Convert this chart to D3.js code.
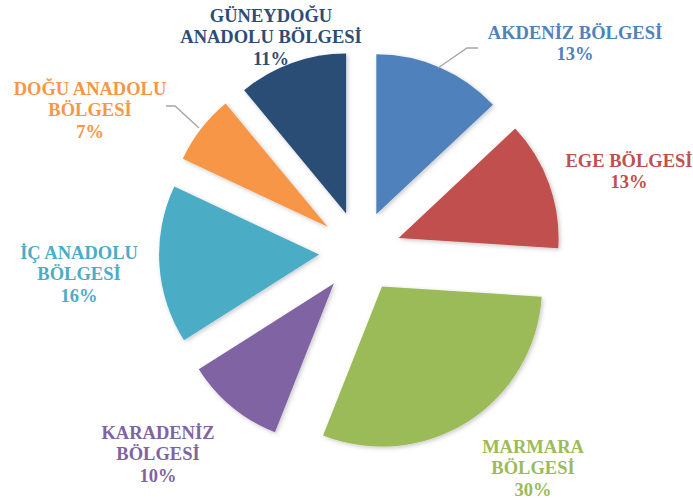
<!DOCTYPE html>
<html>
<head>
<meta charset="utf-8">
<script src="https://cdn.jsdelivr.net/npm/d3@7"></script>
<style>
  html, body { margin: 0; padding: 0; background: #fff; }
  svg { display: block; }
</style>
</head>
<body>
<svg id="chart" width="693" height="503"></svg>
<script>
// ---- data ----
const categories = ["AKDENİZ BÖLGESİ", "EGE BÖLGESİ", "MARMARA BÖLGESİ", "KARADENİZ BÖLGESİ", "İÇ ANADOLU BÖLGESİ", "DOĞU ANADOLU BÖLGESİ", "GÜNEYDOĞU ANADOLU BÖLGESİ"];
const values = [13, 13, 30, 10, 16, 7, 11];
const labelLines = [
  ["AKDENİZ BÖLGESİ"],
  ["EGE BÖLGESİ"],
  ["MARMARA", "BÖLGESİ"],
  ["KARADENİZ", "BÖLGESİ"],
  ["İÇ ANADOLU", "BÖLGESİ"],
  ["DOĞU ANADOLU", "BÖLGESİ"],
  ["GÜNEYDOĞU", "ANADOLU BÖLGESİ"]
];
const colors = ["#4F81BD", "#C0504D", "#9BBB59", "#8064A2", "#4BACC6", "#F79646", "#2C4D75"];

// ---- layout ----
const cx = 360, cy = 252, radius = 160, explode = 41;
const labelCenters = [[575, 32], [629, 160], [533, 446], [158, 432], [79, 252], [90, 88], [271, 15]];
const lineH = 21.5;
const leaders = {
  0: [[478, 48], [467, 48], [438, 68]],
  5: [[166, 106], [175, 106], [199, 128]]
};

const svg = d3.select("#chart");
const defs = svg.append("defs");
const f = defs.append("filter").attr("id", "sh").attr("x", "-20%").attr("y", "-20%").attr("width", "140%").attr("height", "140%");
f.append("feDropShadow").attr("dx", 1.5).attr("dy", 1.5).attr("stdDeviation", 2).attr("flood-color", "#000").attr("flood-opacity", 0.22);

const pie = d3.pie().sort(null).value(d => d)(values);
const arc = d3.arc().innerRadius(0).outerRadius(radius);

const g = svg.append("g").attr("transform", `translate(${cx},${cy})`);
g.selectAll("path").data(pie).join("path")
  .attr("d", arc)
  .attr("fill", (d, i) => colors[i])
  .attr("filter", "url(#sh)")
  .attr("transform", d => {
    const a = (d.startAngle + d.endAngle) / 2;
    return `translate(${explode * Math.sin(a)},${-explode * Math.cos(a)})`;
  });

// leader lines
const line = d3.line();
Object.entries(leaders).forEach(([i, pts]) => {
  svg.append("path").attr("d", line(pts)).attr("fill", "none")
    .attr("stroke", "#A6A6A6").attr("stroke-width", 1.3);
});

// labels
pie.forEach((d, i) => {
  const lines = labelLines[i].concat([d3.format(".0f")(d.data) + "%"]);
  const [lx, ly] = labelCenters[i];
  const t = svg.append("text")
    .attr("text-anchor", "middle")
    .attr("font-family", "'Liberation Serif', 'Times New Roman', serif")
    .attr("font-weight", "bold")
    .attr("font-size", "18.5px")
    .attr("fill", colors[i]);
  lines.forEach((s, k) => {
    t.append("tspan").attr("x", lx).attr("y", ly + k * lineH + 6.5).text(s);
  });
});
</script>
</body>
</html>
